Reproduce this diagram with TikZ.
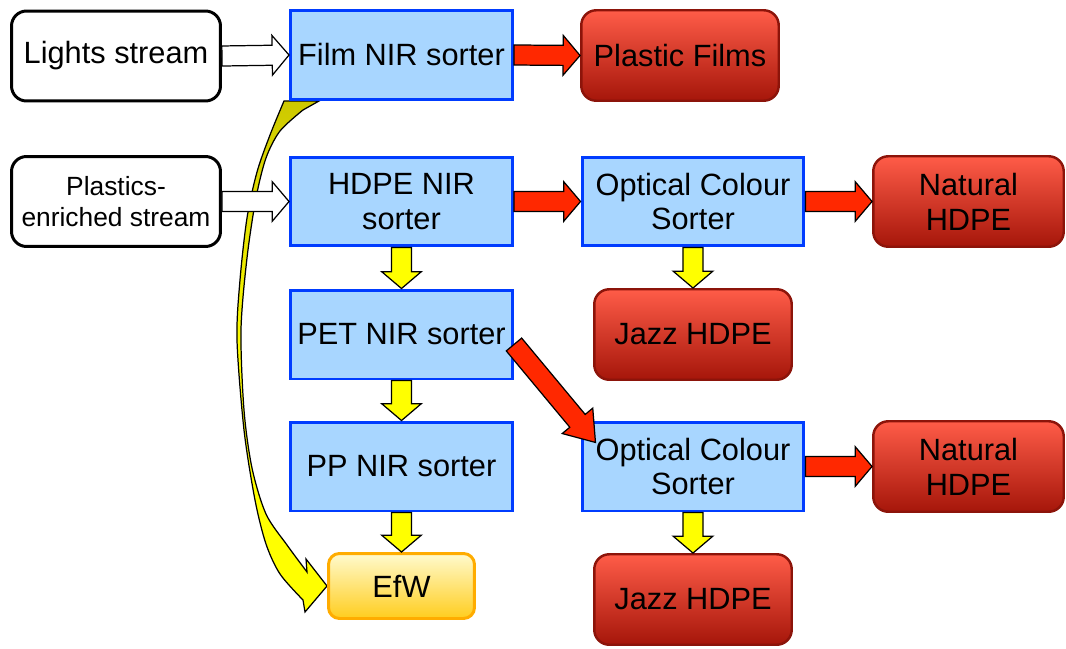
\documentclass[tikz,border=0pt]{standalone}
\usepackage{fontspec}
\setmainfont{Liberation Sans}
\usetikzlibrary{calc,backgrounds}

\definecolor{sorterfill}{RGB}{168,214,255}
\definecolor{sorterblue}{RGB}{0,60,255}
\definecolor{producttop}{RGB}{255,92,72}
\definecolor{productbottom}{RGB}{165,22,10}
\definecolor{productedge}{RGB}{140,20,10}
\definecolor{efwtop}{RGB}{255,250,205}
\definecolor{efwbottom}{RGB}{255,205,30}
\definecolor{efwedge}{RGB}{255,172,0}
\definecolor{arrowred}{RGB}{255,40,0}
\definecolor{arrowyellow}{RGB}{255,255,0}
\definecolor{curveolive}{RGB}{205,200,0}

\tikzset{
    boxtext/.style={font=\fontsize{17.5}{19.8}\selectfont, align=center, inner sep=0pt},
    streambox/.style={boxtext, draw=black, fill=white, line width=1.7pt, rounded corners=0.3cm,
        minimum width=4.18cm, minimum height=1.8cm},
    sorterbox/.style={boxtext, draw=sorterblue, fill=sorterfill, line width=1.7pt,
        minimum width=4.44cm, minimum height=1.78cm},
    productbox/.style={boxtext, draw=productedge, line width=1.4pt, rounded corners=0.3cm,
        top color=producttop, bottom color=productbottom, minimum width=3.95cm, minimum height=1.81cm},
    efwbox/.style={boxtext, draw=efwedge, line width=1.7pt, rounded corners=0.22cm,
        top color=efwtop, bottom color=efwbottom, minimum width=2.92cm, minimum height=1.3cm},
    arrowline/.style={draw=black, line width=0.7pt, line join=miter},
    curvearrow/.style={draw=black, line width=0.7pt, top color=curveolive, bottom color=arrowyellow,
        middle color=arrowyellow}
}

% block arrow: [head length]{fill}{from}{to}
\newcommand{\blockarrow}[4][9.6pt]{%
    \filldraw[arrowline, fill=#2] let \p1=(#3), \p2=(#4), \n1={atan2(\y2-\y1,\x2-\x1)},
        \n2={veclen(\x2-\x1,\y2-\y1)} in [shift={(\p1)}, rotate=\n1]
        (0pt,-5.7pt) -- (\n2-#1,-5.7pt) -- (\n2-#1,-11.3pt) -- (\n2,0pt)
        -- (\n2-#1,11.3pt) -- (\n2-#1,5.7pt) -- (0pt,5.7pt) -- cycle;}

\begin{document}
\begin{tikzpicture}[x=0.02cm,y=-0.02cm]
    \useasboundingbox (0,0) rectangle (1066,649);

    \node[streambox] (lights) at (116,56) {Lights stream};
    \node[streambox, font=\fontsize{15}{18}\selectfont] (plastics) at (116,201.5) {Plastics-\\enriched stream};
    \node[sorterbox] (film) at (401.5,55) {Film NIR sorter};
    \node[productbox] (films) at (680,55.5) {Plastic Films};
    \node[sorterbox] (hdpe) at (401.5,201.5) {HDPE NIR\\sorter};
    \node[sorterbox] (ocsa) at (693,201.5) {Optical Colour\\Sorter};
    \node[productbox, minimum width=3.81cm] (natura) at (968.5,201.5) {Natural\\HDPE};
    \node[sorterbox] (pet) at (401.5,334.5) {PET NIR sorter};
    \node[productbox] (jazza) at (693,334.5) {Jazz HDPE};
    \node[sorterbox] (pp) at (401.5,466.5) {PP NIR sorter};
    \node[sorterbox] (ocsb) at (693,466.5) {Optical Colour\\Sorter};
    \node[productbox, minimum width=3.81cm] (naturb) at (968.5,466.5) {Natural\\HDPE};
    \node[productbox] (jazzb) at (693,599.5) {Jazz HDPE};
    \node[efwbox] (efw) at (401.5,586) {EfW};

    % rejects from the film sorter go straight to EfW
    \begin{pgfonlayer}{background}
        \draw[curvearrow] (film.south west) -- ($(film.south west)+(30,0)$)
            -- plot[smooth] coordinates {(303,110) (280,131) (266,158) (256,198) (247,258) (241,330)
                (244,410) (252,468) (266,514) (287,545) (307,572)}
            -- (306,559) -- (efw.west) -- (305,612)
            -- plot[smooth] coordinates {(303,600) (280,574) (266,544) (255,500) (244,430) (237,340)
                (240,280) (247,218) (257,172) (270,135) (284,101)} -- cycle;
    \end{pgfonlayer}

    \blockarrow{white}{lights.east}{film.west}
    \blockarrow{white}{plastics.east}{hdpe.west}
    \blockarrow{arrowred}{film.east}{films.west}
    \blockarrow{arrowred}{hdpe.east}{ocsa.west}
    \blockarrow{arrowred}{ocsa.east}{natura.west}
    \blockarrow{arrowred}{ocsb.east}{naturb.west}
    \blockarrow[16pt]{arrowred}{$(pet.east)+(0,10)$}{$(ocsb.north west)+(15,22)$}
    \blockarrow{arrowyellow}{hdpe.south}{pet.north}
    \blockarrow{arrowyellow}{pet.south}{pp.north}
    \blockarrow{arrowyellow}{pp.south}{efw.north}
    \blockarrow{arrowyellow}{ocsa.south}{jazza.north}
    \blockarrow{arrowyellow}{ocsb.south}{jazzb.north}
\end{tikzpicture}
\end{document}
